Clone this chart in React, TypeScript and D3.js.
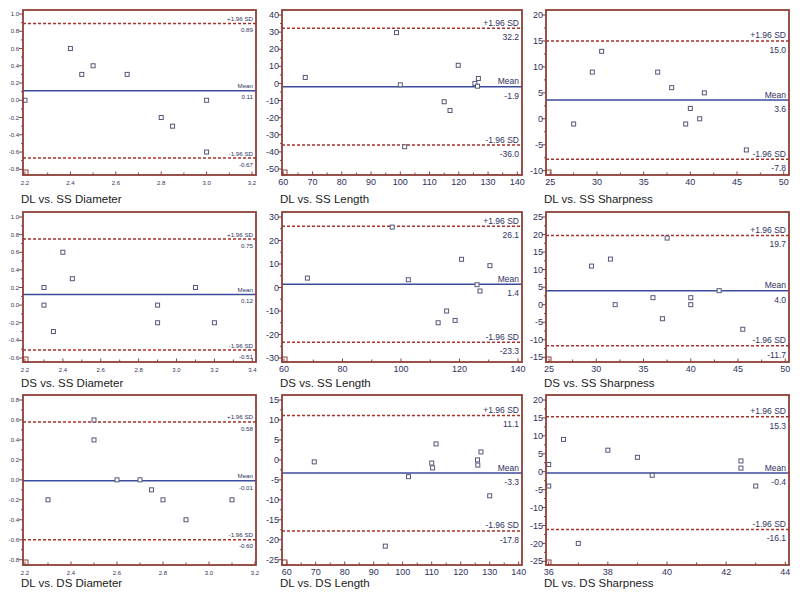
import * as d3 from "d3";
import React from "react";

// ---- data (Bland-Altman: mean of two methods vs difference) ----
const dlSsDiamX = [2.2, 2.4, 2.45, 2.5, 2.65, 2.8, 2.85, 3.0, 3.0];
const dlSsDiamY = [0.0, 0.6, 0.3, 0.4, 0.3, -0.2, -0.3, 0.0, -0.6];

const dlSsLenX = [67.5, 98.7, 100, 101.5, 115, 117, 119.8, 125.5, 126.4, 126.7];
const dlSsLenY = [3.5, 29.7, -0.8, -37, -10.7, -15.8, 10.6, 0, -1.6, 2.9];

const dlSsSharpX = [27.5, 29.5, 30.5, 36.5, 38, 39.5, 40, 41, 41.5, 46];
const dlSsSharpY = [-1, 9, 13, 9, 6, -1, 2, 0, 5, -6];

const dsSsDiamX = [2.3, 2.3, 2.35, 2.4, 2.45, 2.9, 2.9, 3.1, 3.2];
const dsSsDiamY = [0.2, 0.0, -0.3, 0.6, 0.3, 0.0, -0.2, 0.2, -0.2];

const dsSsLenX = [68, 97, 102.5, 112.7, 115.6, 118.5, 120.7, 126, 127, 130.4];
const dsSsLenY = [4, 25.7, 3.3, -15, -10, -14, 12, 1.2, -1.5, 9.3];

const dsSsSharpX = [29.5, 31.5, 32, 36, 37, 37.5, 40, 40, 43, 45.5];
const dsSsSharpY = [11, 13, 0, 2, -4, 19, 2, 0, 4, -7];

const dlDsDiamX = [2.3, 2.5, 2.5, 2.6, 2.7, 2.75, 2.8, 2.9, 3.1];
const dlDsDiamY = [-0.2, 0.6, 0.4, 0.0, 0.0, -0.1, -0.2, -0.4, -0.2];

const dlDsLenX = [69.5, 94, 102, 110, 110.3, 111.5, 125.8, 125.9, 127, 130];
const dlDsLenY = [-0.5, -21.6, -4.2, -0.8, -2, 4, 0, -1.3, 2, -9];

const dlDsSharpX = [36, 36, 36.5, 37, 38, 39, 39.5, 42.5, 42.5, 43];
const dlDsSharpY = [2, -4, 9, -20, 6, 4, -1, 3, 1, -4];

const titles = [
  "DL vs. SS Diameter", "DL vs. SS Length", "DL vs. SS Sharpness",
  "DS vs. SS Diameter", "DS vs. SS Length", "DS vs. SS Sharpness",
  "DL vs. DS Diameter", "DL vs. DS Length", "DL vs. DS Sharpness",
];
const meanVals = [0.11, -1.9, 3.6, 0.12, 1.4, 4.0, -0.01, -3.3, -0.4];
const upperVals = [0.89, 32.2, 15.0, 0.75, 26.1, 19.7, 0.58, 11.1, 15.3];
const lowerVals = [-0.67, -36.0, -7.8, -0.51, -23.3, -11.7, -0.6, -17.8, -16.1];

const yTickSets = [
  [-0.8, -0.6, -0.4, -0.2, 0.0, 0.2, 0.4, 0.6, 0.8, 1.0],
  [-50, -40, -30, -20, -10, 0, 10, 20, 30, 40],
  [-10, -5, 0, 5, 10, 15, 20],
  [-0.6, -0.4, -0.2, 0.0, 0.2, 0.4, 0.6, 0.8, 1.0],
  [-30, -20, -10, 0, 10, 20, 30],
  [-15, -10, -5, 0, 5, 10, 15, 20, 25],
  [-0.8, -0.6, -0.4, -0.2, 0.0, 0.2, 0.4, 0.6, 0.8],
  [-25, -20, -15, -10, -5, 0, 5, 10, 15],
  [-25, -20, -15, -10, -5, 0, 5, 10, 15, 20],
];
const xTickSets = [
  [2.2, 2.4, 2.6, 2.8, 3.0, 3.2],
  [60, 70, 80, 90, 100, 110, 120, 130, 140],
  [25, 30, 35, 40, 45, 50],
  [2.2, 2.4, 2.6, 2.8, 3.0, 3.2, 3.4],
  [60, 80, 100, 120, 140],
  [25, 30, 35, 40, 45, 50],
  [2.2, 2.4, 2.6, 2.8, 3.0, 3.2],
  [60, 70, 80, 90, 100, 110, 120, 130, 140],
  [36, 38, 40, 42, 44],
];

const seriesX = [dlSsDiamX, dlSsLenX, dlSsSharpX, dsSsDiamX, dsSsLenX, dsSsSharpX, dlDsDiamX, dlDsLenX, dlDsSharpX];
const seriesY = [dlSsDiamY, dlSsLenY, dlSsSharpY, dsSsDiamY, dsSsLenY, dsSsSharpY, dlDsDiamY, dlDsLenY, dlDsSharpY];

// ---- layout ----
const colLeft = [23, 282, 546];
const colRight = [256, 522, 789];
const rowTop = [10, 212, 395];
const rowBottom = [175, 362, 565];
// inset of first/last tick from the frame: top, bottom, left, right
const pads = [
  [4, 5.7, 2, 4], [5, 6, 1.3, 4.7], [5, 4.3, 4.3, 5.3],
  [5, 4, 2, 3.7], [5, 4, 2, 4], [5, 4.7, 3, 3.7],
  [5, 5.3, 2, 1], [5, 5.3, 4.7, 3.3], [5, 3.7, 2.7, 3.7],
];

const FRAME = "#8e4038";
const SDCOL = "#a8322c";
const MEANCOL = "#3b4c9e";
const TXT = "#2f3160";
const FONT = "'Liberation Sans', Arial, sans-serif";

function Panel({ i }: { i: number }) {
  const col = i % 3, row = Math.floor(i / 3);
  const L = colLeft[col], R = colRight[col], T = rowTop[row], B = rowBottom[row];
  const [pt, pb, pl, pr] = pads[i];
  const yt = yTickSets[i], xt = xTickSets[i];
  const small = col === 0;
  const tickFs = small ? 6 : 9;
  const labFs = small ? 6.2 : 8.5;
  const dec = small ? 2 : 1;
  const tickDec = small ? 1 : 0;

  const x = d3.scaleLinear().domain([xt[0], xt[xt.length - 1]]).range([L + pl, R - pr]);
  const y = d3.scaleLinear().domain([yt[0], yt[yt.length - 1]]).range([B - pb, T + pt]);

  const mid = (a: number[]) => a.slice(1).map((v, k) => (v + a[k]) / 2);
  const xMinor = mid(xt), yMinor = mid(yt);

  const lines = [
    { v: upperVals[i], name: "+1.96 SD", color: SDCOL, dash: "3,2" },
    { v: meanVals[i], name: "Mean", color: MEANCOL, dash: undefined },
    { v: lowerVals[i], name: "-1.96 SD", color: SDCOL, dash: "3,2" },
  ];

  return (
    <g fontFamily={FONT}>
      {/* reference lines */}
      {lines.map((ln, k) => (
        <g key={k}>
          <line x1={L} x2={R} y1={y(ln.v)} y2={y(ln.v)} stroke={ln.color}
            strokeWidth={1.5} strokeDasharray={ln.dash} />
          <text x={R - 3} y={y(ln.v) - 2.5} textAnchor="end" fontSize={labFs} fill={TXT}>{ln.name}</text>
          <text x={R - 3} y={y(ln.v) + labFs * 1.4} textAnchor="end" fontSize={labFs} fill={TXT}>
            {ln.v.toFixed(dec)}
          </text>
        </g>
      ))}
      {/* points */}
      {seriesX[i].map((xv, k) => (
        <rect key={k} x={x(xv) - 2} y={y(seriesY[i][k]) - 2} width={4} height={4}
          fill="white" stroke="#55577a" strokeWidth={1} />
      ))}
      {/* y axis ticks */}
      {yt.map((v, k) => (
        <g key={"y" + k}>
          <line x1={L - 4} x2={L} y1={y(v)} y2={y(v)} stroke={FRAME} strokeWidth={1} />
          <text x={L - (small ? 4 : 3)} y={y(v)} dy="0.35em" textAnchor="end" fontSize={tickFs} fill={TXT}>
            {v.toFixed(tickDec)}
          </text>
        </g>
      ))}
      {yMinor.map((v, k) => (
        <line key={"ym" + k} x1={L - 2} x2={L} y1={y(v)} y2={y(v)} stroke={FRAME} strokeWidth={1} />
      ))}
      {/* x axis ticks (inward) */}
      {xt.map((v, k) => (
        <g key={"x" + k}>
          <line x1={x(v)} x2={x(v)} y1={B} y2={B - 3.5} stroke={FRAME} strokeWidth={1} />
          <text x={x(v)} y={B + (small ? 9.5 : 10)} textAnchor="middle" fontSize={tickFs} fill={TXT}>
            {v.toFixed(tickDec)}
          </text>
        </g>
      ))}
      {xMinor.map((v, k) => (
        <line key={"xm" + k} x1={x(v)} x2={x(v)} y1={B} y2={B - 2.5} stroke={FRAME} strokeWidth={1} />
      ))}
      {/* origin marker */}
      <rect x={L} y={B - 5} width={5} height={5} fill="none" stroke={FRAME} strokeWidth={1} />
      {/* frame */}
      <rect x={L} y={T} width={R - L} height={B - T} fill="none" stroke={FRAME} strokeWidth={1.8} />
      {/* title */}
      <text x={L - 2} y={[203, 387, 587][row]} fontSize={11.5} fill="#222">{titles[i]}</text>
    </g>
  );
}

export default function App() {
  return (
    <svg width={800} height={598} style={{ position: "absolute", left: 0, top: 0, background: "white" }}>
      <rect width={800} height={598} fill="white" />
      {titles.map((_, i) => <Panel key={i} i={i} />)}
    </svg>
  );
}
